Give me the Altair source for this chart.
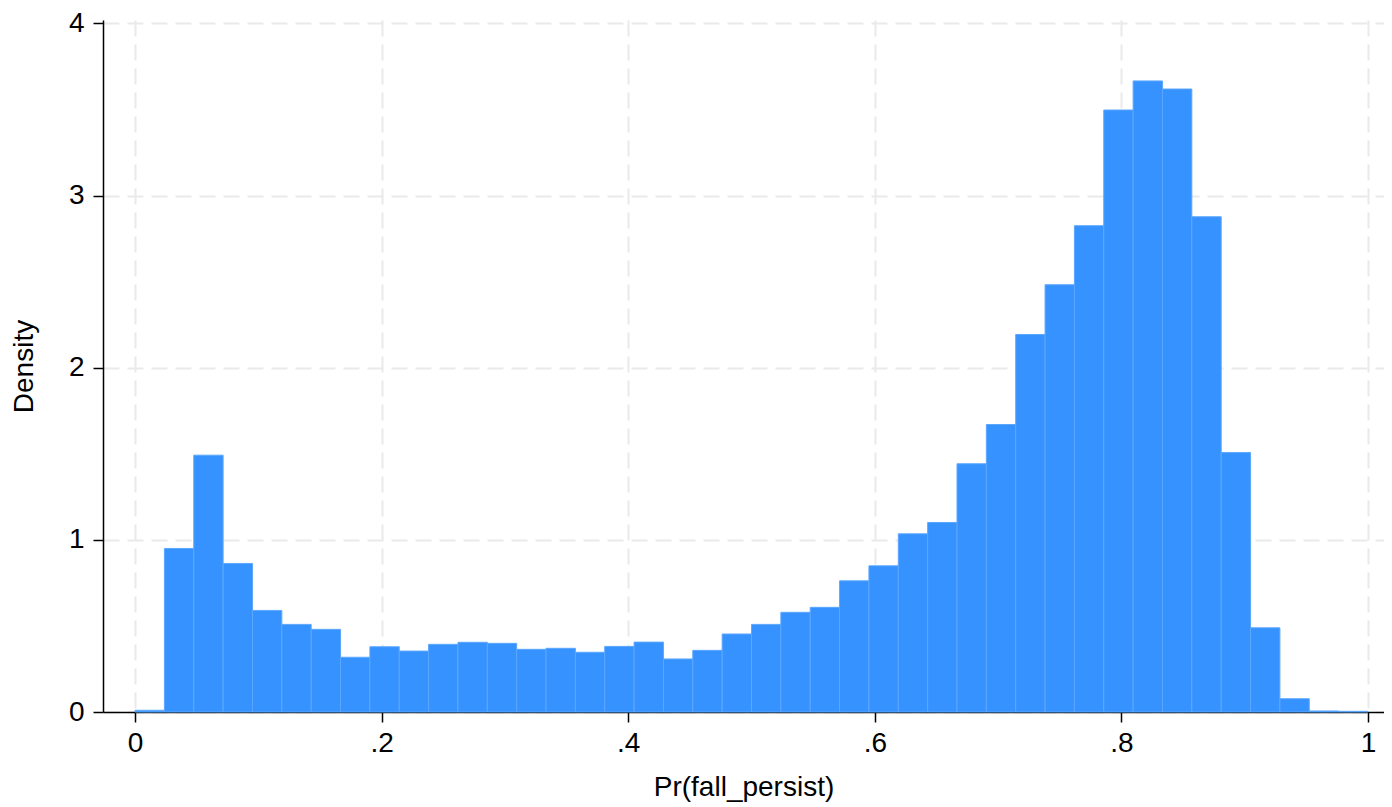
import altair as alt
import pandas as pd

# Histogram of Pr(fall_persist): 42 equal-width bins on [0, 1]
n_bins = 42
density = [
    0.010, 0.950, 1.492, 0.863, 0.590, 0.509, 0.480, 0.318, 0.379, 0.354,
    0.393, 0.405, 0.399, 0.364, 0.370, 0.347, 0.381, 0.406, 0.308, 0.358,
    0.453, 0.509, 0.579, 0.608, 0.762, 0.849, 1.035, 1.101, 1.442, 1.670,
    2.193, 2.482, 2.825, 3.497, 3.666, 3.619, 2.877, 1.507, 0.489, 0.077,
    0.006, 0.004,
]
x_ticks = [0, 0.2, 0.4, 0.6, 0.8, 1]
y_ticks = [0, 1, 2, 3, 4]

df = pd.DataFrame({
    "bin_start": [i / n_bins for i in range(n_bins)],
    "bin_end": [(i + 1) / n_bins for i in range(n_bins)],
    "density": density,
})

FONT = "Liberation Sans"
FS = 28

bars = alt.Chart(df).mark_bar(
    fill="#3592FF", stroke="#5CA7FF", strokeWidth=1
).encode(
    x=alt.X(
        "bin_start:Q",
        scale=alt.Scale(domain=[-0.026, 1.013], nice=False, zero=False),
        axis=alt.Axis(
            values=x_ticks,
            labelExpr="datum.value == 0 ? '0' : datum.value == 1 ? '1' : replace(format(datum.value, '.1f'), '0.', '.')",
            title="Pr(fall_persist)",
            grid=True,
            gridColor="#EAEAEA",
            gridDash=[16, 8],
            gridWidth=2,
            domainColor="#000000",
            domainWidth=1.5,
            tickColor="#000000",
            tickWidth=1.5,
            tickSize=10,
            labelPadding=7,
            labelFont=FONT,
            labelFontSize=FS,
            labelColor="#000000",
            labelFlush=False,
            titleFont=FONT,
            titleFontSize=FS,
            titleFontWeight="normal",
            titleColor="#000000",
            titleBaseline="alphabetic",
            titleY=83,
        ),
    ),
    x2="bin_end:Q",
    y=alt.Y(
        "density:Q",
        scale=alt.Scale(domain=[0, 4.02], nice=False),
        axis=alt.Axis(
            values=y_ticks,
            format="d",
            title="Density",
            grid=True,
            gridColor="#EAEAEA",
            gridDash=[16, 8],
            gridWidth=2,
            domainColor="#000000",
            domainWidth=1.5,
            tickColor="#000000",
            tickWidth=1.5,
            tickSize=10,
            labelPadding=9,
            labelFont=FONT,
            labelFontSize=FS,
            labelColor="#000000",
            labelFlush=False,
            titleFont=FONT,
            titleFontSize=FS,
            titleFontWeight="normal",
            titleColor="#000000",
            titleX=-65,
        ),
    ),
    y2=alt.datum(0),
)

chart = bars.properties(
    width=1281,
    height=692,
    autosize=alt.AutoSizeParams(type="none"),
    padding={"left": 95, "top": 12, "right": 0, "bottom": 93},
    background="#FFFFFF",
).configure_view(stroke=None)

chart.save("out.html", embed_options={"renderer": "svg", "actions": False})
